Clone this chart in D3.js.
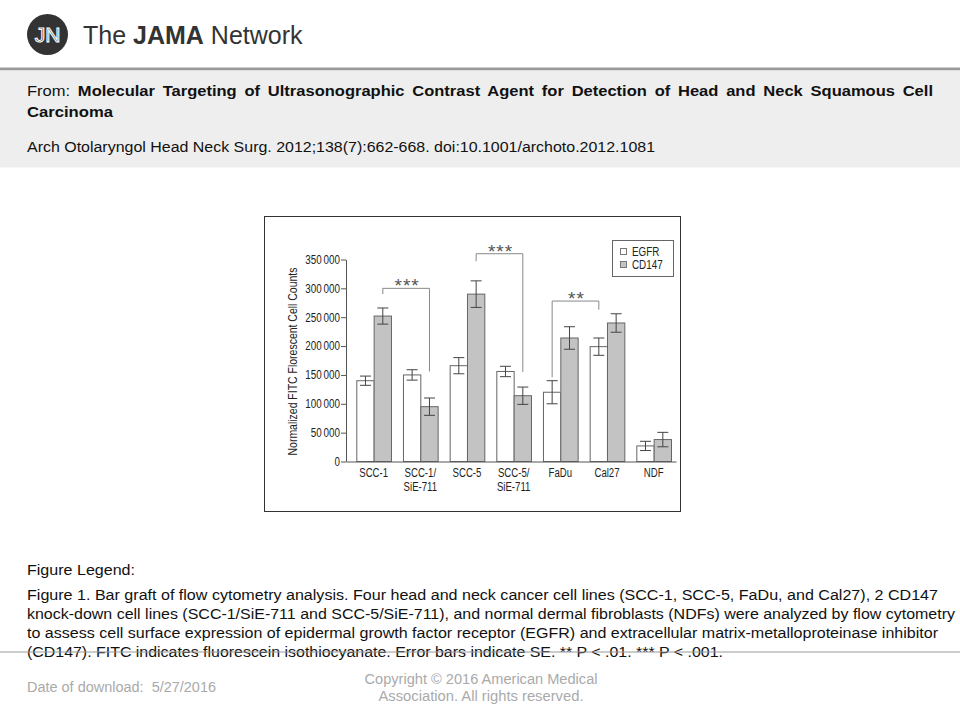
<!DOCTYPE html>
<html>
<head>
<meta charset="utf-8">
<script src="https://cdn.jsdelivr.net/npm/d3@7"></script>
<style>
  body { margin: 0; background: #fff; }
  svg { display: block; }
</style>
</head>
<body>
<svg id="page"></svg>
<script>
"use strict";

const categories = ["SCC-1", "SCC-1/\nSiE-711", "SCC-5", "SCC-5/\nSiE-711", "FaDu", "Cal27", "NDF"];
const seriesNames = ["EGFR", "CD147"];
const egfrValues = [140000, 150000, 166000, 156000, 120000, 199000, 27000];
const egfrErrors = [8000, 9000, 14000, 9000, 20000, 15000, 8000];
const cd147Values = [252000, 95000, 290000, 114000, 214000, 240000, 38000];
const cd147Errors = [14000, 15000, 23000, 15000, 19500, 16000, 12500];
const yTicks = [0, 50000, 100000, 150000, 200000, 250000, 300000, 350000];

const sigLabels = ["***", "***", "**"];
const sigFromGroup = [0, 2, 4];
const sigFromSeries = ["CD147", "CD147", "EGFR"];
const sigToGroup = [1, 3, 5];
const sigToSeries = ["CD147", "CD147", "EGFR"];
const sigTop = [300000, 360000, 278000];
const sigFromEnd = [290000, 347000, 146000];
const sigToEnd = [156000, 155000, 263000];

const width = 960;
const height = 720;
const sans = "'Liberation Sans', Arial, sans-serif";

const svg = d3.select("#page").attr("width", width).attr("height", height);

// squeeze a text node horizontally, the chart uses a narrow face
const condense = (sel, factor) => {
  sel.each(function () {
    const w = this.getComputedTextLength();
    d3.select(this).attr("textLength", w * factor).attr("lengthAdjust", "spacingAndGlyphs");
  });
};

// ---------- page header ----------
const drawHeader = () => {
  svg.append("circle").attr("cx", 47.5).attr("cy", 34.5).attr("r", 20.5).attr("fill", "#333");
  svg.append("text")
    .attr("x", 47.5).attr("y", 42).attr("text-anchor", "middle")
    .style("font-family", sans).style("font-size", "21px")
    .attr("fill", "none").attr("stroke", "#fff").attr("stroke-width", 1.1)
    .text("JN");

  const logo = svg.append("text")
    .attr("x", 83).attr("y", 43.5)
    .style("font-family", sans).style("font-size", "25px").attr("fill", "#333");
  logo.append("tspan").text("The ");
  logo.append("tspan").style("font-weight", "bold").text("JAMA");
  logo.append("tspan").text(" Network");

  svg.append("rect").attr("x", 0).attr("y", 67.5).attr("width", width).attr("height", 3).attr("fill", "#9a9a9a");
  svg.append("rect").attr("x", 0).attr("y", 70.5).attr("width", width).attr("height", 97).attr("fill", "#eeeeee");

  // first line is justified to the column
  const from = svg.append("text")
    .attr("x", 27).attr("y", 96)
    .attr("textLength", 906).attr("lengthAdjust", "spacingAndGlyphs")
    .style("font-family", sans).style("font-size", "15.5px").style("word-spacing", "3px").attr("fill", "#111");
  from.append("tspan").text("From: ");
  from.append("tspan").style("font-weight", "bold")
    .text("Molecular Targeting of Ultrasonographic Contrast Agent for Detection of Head and Neck Squamous Cell");

  svg.append("text")
    .attr("x", 27).attr("y", 117)
    .attr("textLength", 86).attr("lengthAdjust", "spacingAndGlyphs")
    .style("font-family", sans).style("font-size", "15.5px").style("font-weight", "bold").attr("fill", "#111")
    .text("Carcinoma");

  svg.append("text")
    .attr("x", 27).attr("y", 152)
    .attr("textLength", 628).attr("lengthAdjust", "spacingAndGlyphs")
    .style("font-family", sans).style("font-size", "15.5px").attr("fill", "#111")
    .text("Arch Otolaryngol Head Neck Surg. 2012;138(7):662-668. doi:10.1001/archoto.2012.1081");
};

// ---------- figure legend and footer ----------
const drawFooter = () => {
  svg.append("text")
    .attr("x", 27).attr("y", 575)
    .attr("textLength", 108).attr("lengthAdjust", "spacingAndGlyphs")
    .style("font-family", sans).style("font-size", "15.5px").attr("fill", "#111")
    .text("Figure Legend:");

  const lines = [
    ["Figure 1. Bar graft of flow cytometry analysis. Four head and neck cancer cell lines (SCC-1, SCC-5, FaDu, and Cal27), 2 CD147", 911],
    ["knock-down cell lines (SCC-1/SiE-711 and SCC-5/SiE-711), and normal dermal fibroblasts (NDFs) were analyzed by flow cytometry", 928],
    ["to assess cell surface expression of epidermal growth factor receptor (EGFR) and extracellular matrix-metalloproteinase inhibitor", 911],
    ["(CD147). FITC indicates fluorescein isothiocyanate. Error bars indicate SE. ** P < .01. *** P < .001.", 696],
  ];
  lines.forEach(([txt, len], i) => {
    svg.append("text")
      .attr("x", 27).attr("y", 600 + i * 19)
      .attr("textLength", len).attr("lengthAdjust", "spacingAndGlyphs")
      .style("font-family", sans).style("font-size", "15.5px").attr("fill", "#111")
      .text(txt);
  });

  svg.append("line").attr("x1", 0).attr("x2", width).attr("y1", 652).attr("y2", 652)
    .attr("stroke", "#999").attr("stroke-width", 1);

  svg.append("text")
    .attr("x", 27).attr("y", 692)
    .attr("textLength", 189).attr("lengthAdjust", "spacingAndGlyphs")
    .style("font-family", sans).style("font-size", "15.5px").attr("fill", "#aaa")
    .text("Date of download:\u00a0 5/27/2016");

  [["Copyright \u00a9 2016 American Medical", 684, 233], ["Association. All rights reserved.", 701, 205]].forEach(([txt, y, len]) => {
    svg.append("text")
      .attr("x", 481).attr("y", y).attr("text-anchor", "middle")
      .attr("textLength", len).attr("lengthAdjust", "spacingAndGlyphs")
      .style("font-family", sans).style("font-size", "15.5px").attr("fill", "#aaa")
      .text(txt);
  });
};

// ---------- chart ----------
const drawChart = () => {
  svg.append("rect")
    .attr("x", 264.5).attr("y", 216.5).attr("width", 416).attr("height", 295)
    .attr("fill", "#fff").attr("stroke", "#333").attr("stroke-width", 1);

  const x0 = d3.scaleBand()
    .domain(categories)
    .range([346, 676])
    .paddingInner(0.257)
    .paddingOuter(0.164)
    .align(0.673);

  const x1 = d3.scaleBand().domain(seriesNames).range([0, x0.bandwidth()]);

  const y = d3.scaleLinear().domain([0, 350000]).range([461.5, 259.5]);

  const rows = categories.map((c, i) => ({
    cat: c,
    vals: [
      { s: "EGFR", v: egfrValues[i], e: egfrErrors[i] },
      { s: "CD147", v: cd147Values[i], e: cd147Errors[i] },
    ],
  }));

  const groups = svg.append("g").selectAll("g")
    .data(rows)
    .enter()
    .append("g")
    .attr("transform", (d) => `translate(${x0(d.cat)},0)`);

  groups.selectAll("rect")
    .data((d) => d.vals)
    .enter()
    .append("rect")
    .attr("x", (d) => x1(d.s) + 0.5)
    .attr("y", (d) => y(d.v))
    .attr("width", x1.bandwidth())
    .attr("height", (d) => y(0) - y(d.v))
    .attr("fill", (d) => (d.s === "EGFR" ? "#ffffff" : "#c3c3c3"))
    .attr("stroke", "#666")
    .attr("stroke-width", 1);

  const err = groups.selectAll("g.err")
    .data((d) => d.vals)
    .enter()
    .append("g")
    .attr("class", "err")
    .attr("stroke", "#444")
    .attr("stroke-width", 1);
  const cx = (d) => x1(d.s) + x1.bandwidth() / 2 + 0.5;
  err.append("line")
    .attr("x1", cx).attr("x2", cx)
    .attr("y1", (d) => y(d.v - d.e)).attr("y2", (d) => y(d.v + d.e));
  err.append("line")
    .attr("x1", (d) => cx(d) - 5.5).attr("x2", (d) => cx(d) + 5.5)
    .attr("y1", (d) => y(d.v + d.e)).attr("y2", (d) => y(d.v + d.e));
  err.append("line")
    .attr("x1", (d) => cx(d) - 5.5).attr("x2", (d) => cx(d) + 5.5)
    .attr("y1", (d) => y(d.v - d.e)).attr("y2", (d) => y(d.v - d.e));

  // axes
  const yAxis = d3.axisLeft(y)
    .tickValues(yTicks)
    .tickSize(5)
    .tickSizeOuter(0)
    .tickPadding(1)
    .tickFormat((d) => d3.format(",")(d).replace(/,/g, "\u2009"));

  const gy = svg.append("g").attr("transform", "translate(346,0)").call(yAxis);
  gy.selectAll("path, line").attr("stroke", "#555");
  gy.selectAll("text").style("font-family", sans).style("font-size", "12px").attr("fill", "#222");
  condense(gy.selectAll("text"), 0.82);

  const xAxis = d3.axisBottom(x0).tickSize(0).tickSizeOuter(0).tickPadding(7);
  const gx = svg.append("g").attr("transform", `translate(0,${y(0)})`).call(xAxis);
  gx.select(".domain").attr("stroke", "#555");
  gx.selectAll("text")
    .style("font-family", sans).style("font-size", "12px").attr("fill", "#222")
    .each(function (d) {
      const t = d3.select(this);
      const parts = d.split("\n");
      t.text(null);
      parts.forEach((p, i) => {
        t.append("tspan").attr("x", 0).attr("dy", i === 0 ? "0.71em" : "14px").text(p);
      });
    });
  condense(gx.selectAll("tspan"), 0.8);

  svg.append("text")
    .attr("transform", `translate(297,${(y(0) + y(350000)) / 2 + 1}) rotate(-90)`)
    .attr("text-anchor", "middle")
    .attr("textLength", 188).attr("lengthAdjust", "spacingAndGlyphs")
    .style("font-family", sans).style("font-size", "13px").attr("fill", "#222")
    .text("Normalized FITC Florescent Cell Counts");

  // significance brackets
  const barCenter = (g, s) => x0(categories[g]) + x1(s) + x1.bandwidth() / 2 + 0.5;
  sigLabels.forEach((lab, i) => {
    const xa = barCenter(sigFromGroup[i], sigFromSeries[i]);
    const xb = barCenter(sigToGroup[i], sigToSeries[i]);
    svg.append("path")
      .attr("d", `M${xa},${y(sigFromEnd[i])}V${y(sigTop[i])}H${xb}V${y(sigToEnd[i])}`)
      .attr("fill", "none").attr("stroke", "#888").attr("stroke-width", 1);
    svg.append("text")
      .attr("x", (xa + xb) / 2 + 1).attr("y", y(sigTop[i]) + 4)
      .attr("text-anchor", "middle")
      .style("font-family", sans).style("font-size", "19px").style("letter-spacing", "1px")
      .attr("fill", "#555")
      .text(lab);
  });

  // legend
  const lg = svg.append("g");
  lg.append("rect")
    .attr("x", 612.5).attr("y", 240.5).attr("width", 61).attr("height", 36)
    .attr("fill", "#fff").attr("stroke", "#666");
  seriesNames.forEach((s, i) => {
    lg.append("rect")
      .attr("x", 620.5).attr("y", 248.5 + i * 13).attr("width", 6).attr("height", 6)
      .attr("fill", s === "EGFR" ? "#fff" : "#c3c3c3").attr("stroke", "#777");
    const t = lg.append("text")
      .attr("x", 632).attr("y", 256 + i * 13)
      .style("font-family", sans).style("font-size", "12px").attr("fill", "#222")
      .text(s);
    condense(t, 0.82);
  });
};

drawHeader();
drawChart();
drawFooter();
</script>
</body>
</html>
